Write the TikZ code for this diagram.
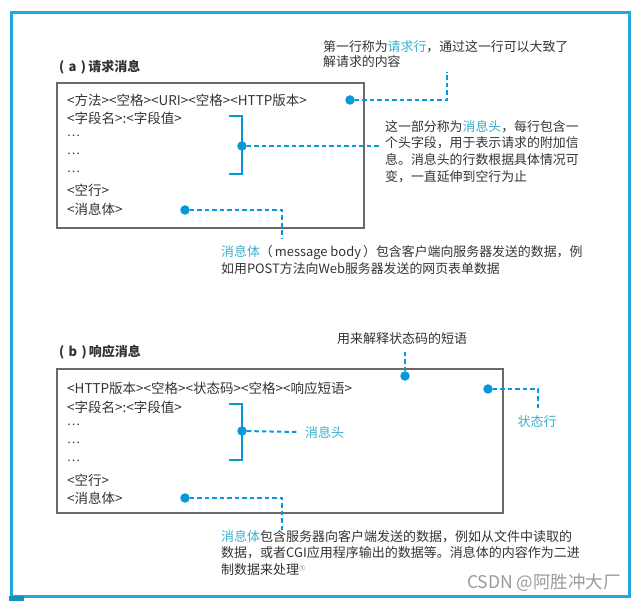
\documentclass[tikz,border=0pt]{standalone}
\usepackage{fontspec}
\setmainfont{Noto Sans CJK SC}
\definecolor{framec}{HTML}{1FA9DC}
\definecolor{dotc}{HTML}{0898D8}
\definecolor{hlc}{HTML}{3AAFCB}
\definecolor{txtc}{HTML}{333333}
\definecolor{boxc}{HTML}{6A6A6A}
\definecolor{wmc}{HTML}{9A9A9A}
\tikzset{
  txt/.style={anchor=west, inner sep=0pt, text=txtc, font=\fontsize{13.5}{17}\selectfont},
  para/.style={anchor=north west, inner sep=0pt, text=txtc, align=left},
  ttl/.style={anchor=west, inner sep=0pt, text=txtc, font=\fontsize{13}{15}\selectfont\bfseries},
  msgbox/.style={draw=boxc, line width=1.6pt, anchor=north west, inner sep=0pt},
  dotnode/.style={circle, fill=dotc, inner sep=0pt, minimum size=9.5pt},
  lead/.style={draw=dotc, line width=2pt, dash pattern=on 4.5pt off 3pt},
  brk/.style={draw=dotc, line width=2.4pt},
}
\newcommand{\hl}[1]{\textcolor{hlc}{#1}}
\begin{document}
\begin{tikzpicture}[x=1pt,y=-1pt]
\useasboundingbox (0,0) rectangle (635,601);
% outer frame
\node[draw=framec, line width=2.6pt, anchor=north west, minimum width=618pt, minimum height=584pt, inner sep=0pt] (frame) at (10,11) {};
\node[fill=framec!85!black, anchor=north west, minimum width=15pt, minimum height=6pt, inner sep=0pt] (tab) at (9,596) {};

% ---------- (a) ----------
\node[ttl] (ta) at (59,67) {(\,\,a\,\,)\,请求消息};
\node[msgbox, minimum width=307pt, minimum height=145pt] (boxa) at (56,82) {};
\node[txt] (a1) at (67,100) {<方法><空格><URI><空格><HTTP版本>};
\node[txt] (a2) at (67,118) {<字段名>:<字段值>};
\node[txt, font=\fontsize{12}{17}\selectfont] (a3) at (67,136) {…};
\node[txt, font=\fontsize{12}{17}\selectfont] (a4) at (67,154) {…};
\node[txt, font=\fontsize{12}{17}\selectfont] (a5) at (67,172) {…};
\node[txt] (a6) at (67,190) {<空行>};
\node[txt] (a7) at (67,209) {<消息体>};

% request line note
\node[dotnode] (da1) at (350,100) {};
\coordinate (ca1) at (447,100);
\coordinate (ea1) at (447,72);
\draw[lead] (da1) -- (ca1) -- (ea1);
\node[para, font=\fontsize{12.9}{15.5}\selectfont] (na1) at (323,40) {第一行称为\hl{请求行}，通过这一行可以大致了\\解请求的内容};

% header bracket
\coordinate (bat) at (229,116);
\coordinate (bab) at (229,174);
\draw[brk] (bat) -- (242,116) -- (242,174) -- (bab);
\node[dotnode] (da2) at (242,146) {};
\coordinate (ea2) at (381,146);
\draw[lead] (da2) -- (ea2);
\node[para, font=\fontsize{12.9}{16.8}\selectfont] (na2) at (385,120) {这一部分称为\hl{消息头}，每行包含一\\个头字段，用于表示请求的附加信\\息。消息头的行数根据具体情况可\\变，一直延伸到空行为止};

% body note
\node[dotnode] (da3) at (185,210) {};
\coordinate (ca3) at (282,210);
\coordinate (ea3) at (282,239);
\draw[lead] (da3) -- (ca3) -- (ea3);
\node[para, font=\fontsize{12.9}{17}\selectfont] (na3) at (221,245) {\hl{消息体}（\,message body\,）包含客户端向服务器发送的数据，例\\如用POST方法向Web服务器发送的网页表单数据};

% ---------- (b) ----------
\node[ttl] (tb) at (59,352) {(\,\,b\,\,)\,响应消息};
\node[msgbox, minimum width=446pt, minimum height=144pt] (boxb) at (56,368) {};
\node[txt] (b1) at (67,388) {<HTTP版本><空格><状态码><空格><响应短语>};
\node[txt] (b2) at (67,407) {<字段名>:<字段值>};
\node[txt, font=\fontsize{12}{17}\selectfont] (b3) at (67,425) {…};
\node[txt, font=\fontsize{12}{17}\selectfont] (b4) at (67,443) {…};
\node[txt, font=\fontsize{12}{17}\selectfont] (b5) at (67,461) {…};
\node[txt] (b6) at (67,480) {<空行>};
\node[txt] (b7) at (67,498) {<消息体>};

% phrase note
\node[dotnode] (db1) at (405,376) {};
\coordinate (eb1) at (405,349);
\draw[lead] (db1) -- (eb1);
\node[txt, anchor=center, font=\fontsize{13}{15}\selectfont] (nb1) at (402,339) {用来解释状态码的短语};

% status line note
\node[dotnode] (db2) at (488,389) {};
\coordinate (cb2) at (538,389);
\coordinate (eb2) at (538,408);
\draw[lead] (db2) -- (cb2) -- (eb2);
\node[txt, anchor=center, text=hlc, font=\fontsize{13}{15}\selectfont] (nb2) at (537,422) {状态行};

% header bracket
\coordinate (bbt) at (229,404);
\coordinate (bbb) at (229,460);
\draw[brk] (bbt) -- (242,404) -- (242,460) -- (bbb);
\node[dotnode] (db3) at (242,431) {};
\node[txt, text=hlc, font=\fontsize{13}{15}\selectfont] (nb3) at (305,432) {消息头};
\draw[lead] (db3) -- ([xshift=-6pt]nb3.west);

% body note
\node[dotnode] (db4) at (185,498) {};
\coordinate (cb4) at (282,498);
\coordinate (eb4) at (282,530);
\draw[lead] (db4) -- (cb4) -- (eb4);
\node[para, font=\fontsize{13}{16.5}\selectfont] (nb4) at (221,530) {\hl{消息体}包含服务器向客户端发送的数据，例如从文件中读取的\\数据，或者CGI应用程序输出的数据等。消息体的内容作为二进\\制数据来处理\raisebox{0.6ex}{\fontsize{6}{6}\selectfont ①}};

% watermark
\node[anchor=east, inner sep=0pt, text=wmc, font=\fontsize{17.5}{19}\selectfont] (wm) at (621,583) {CSDN @阿胜冲大厂};
\end{tikzpicture}
\end{document}
